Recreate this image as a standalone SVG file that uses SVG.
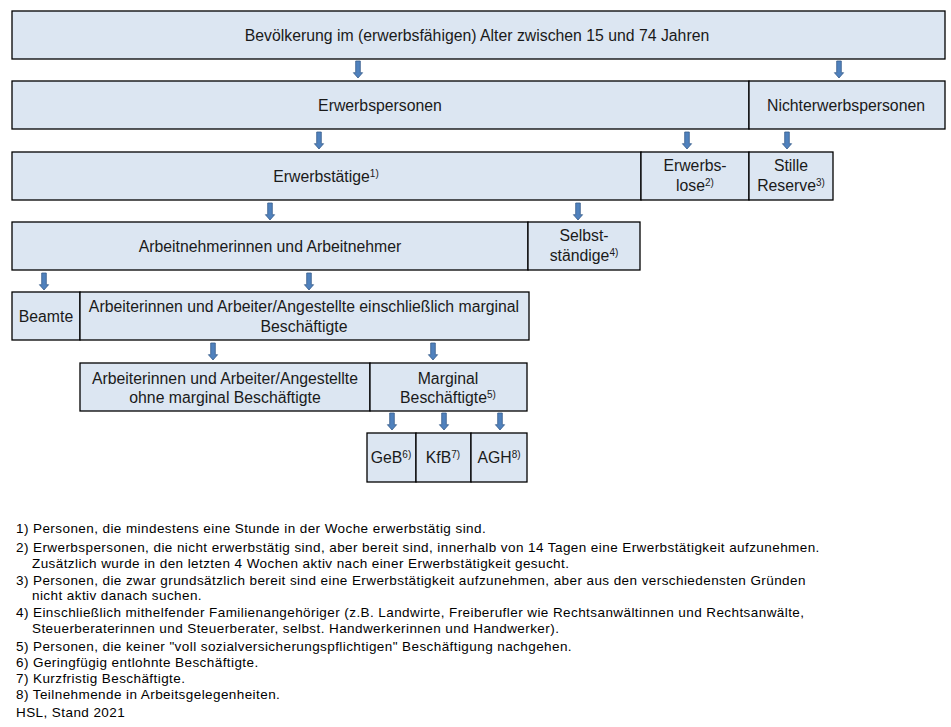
<svg xmlns="http://www.w3.org/2000/svg" width="951" height="727" viewBox="0 0 951 727">
<defs>
<style>
.box{fill:#DCE6F2;stroke:#000;stroke-width:1.3}
.t{font-family:"Liberation Sans",Arial,sans-serif;font-size:15.8px;fill:#1a1a1a;text-anchor:middle}
.sup{font-size:10px}
.fn{font-family:"Liberation Sans",Arial,sans-serif;font-size:13.5px;letter-spacing:0.42px;fill:#000}
.arr{fill:#4F81BD;stroke:#385D8A;stroke-width:0.8}
</style>
<polygon id="ar" points="-2.3,0 2.3,0 2.3,11.7 4.6,11.7 0,17 -4.6,11.7 -2.3,11.7"/>
</defs>
<rect width="951" height="727" fill="#fff"/>
<g id="connectors" class="arr">
<use href="#ar" x="358" y="61"/>
<use href="#ar" x="839" y="61"/>
<use href="#ar" x="319" y="132"/>
<use href="#ar" x="687" y="132"/>
<use href="#ar" x="787" y="132"/>
<use href="#ar" x="270" y="203"/>
<use href="#ar" x="578" y="203"/>
<use href="#ar" x="44" y="273"/>
<use href="#ar" x="309" y="273"/>
<use href="#ar" x="213" y="343"/>
<use href="#ar" x="433" y="343"/>
<use href="#ar" x="392" y="413"/>
<use href="#ar" x="444" y="413"/>
<use href="#ar" x="500" y="413"/>
</g>
<g id="n-bevoelkerung"><rect class="box" x="12" y="11" width="933" height="48"/><text class="t" x="477" y="41">Bevölkerung im (erwerbsfähigen) Alter zwischen 15 und 74 Jahren</text></g>
<g id="n-erwerbspersonen"><rect class="box" x="12" y="81" width="737" height="48"/><text class="t" x="380" y="111">Erwerbspersonen</text></g>
<g id="n-nichterwerbspersonen"><rect class="box" x="749" y="81" width="196" height="48"/><text class="t" x="846" y="111">Nichterwerbspersonen</text></g>
<g id="n-erwerbstaetige"><rect class="box" x="12" y="152" width="629" height="48"/><text class="t" x="326" y="182">Erwerbstätige<tspan class="sup" dy="-5">1)</tspan></text></g>
<g id="n-erwerbslose"><rect class="box" x="641" y="152" width="108" height="48"/><text class="t" x="695" y="171">Erwerbs-</text><text class="t" x="695" y="191">lose<tspan class="sup" dy="-5">2)</tspan></text></g>
<g id="n-stillereserve"><rect class="box" x="749" y="152" width="84" height="48"/><text class="t" x="791" y="171">Stille</text><text class="t" x="791" y="191">Reserve<tspan class="sup" dy="-5">3)</tspan></text></g>
<g id="n-arbeitnehmer"><rect class="box" x="12" y="222" width="516" height="48"/><text class="t" x="270" y="252">Arbeitnehmerinnen und Arbeitnehmer</text></g>
<g id="n-selbststaendige"><rect class="box" x="528" y="222" width="112" height="48"/><text class="t" x="584" y="241">Selbst-</text><text class="t" x="584" y="261">ständige<tspan class="sup" dy="-5">4)</tspan></text></g>
<g id="n-beamte"><rect class="box" x="12" y="292" width="68" height="48"/><text class="t" x="46" y="322">Beamte</text></g>
<g id="n-arbeiter-einschl"><rect class="box" x="80" y="292" width="449" height="48"/><text class="t" x="304" y="312">Arbeiterinnen und Arbeiter/Angestellte einschließlich marginal</text><text class="t" x="304" y="332">Beschäftigte</text></g>
<g id="n-arbeiter-ohne"><rect class="box" x="80" y="363" width="290" height="48"/><text class="t" x="225" y="384">Arbeiterinnen und Arbeiter/Angestellte</text><text class="t" x="225" y="403">ohne marginal Beschäftigte</text></g>
<g id="n-marginal"><rect class="box" x="370" y="363" width="157" height="48"/><text class="t" x="448" y="384">Marginal</text><text class="t" x="448" y="403">Beschäftigte<tspan class="sup" dy="-5">5)</tspan></text></g>
<g id="n-geb"><rect class="box" x="367" y="433" width="49" height="49"/><text class="t" x="391" y="463">GeB<tspan class="sup" dy="-5">6)</tspan></text></g>
<g id="n-kfb"><rect class="box" x="416" y="433" width="55" height="49"/><text class="t" x="443" y="463">KfB<tspan class="sup" dy="-5">7)</tspan></text></g>
<g id="n-agh"><rect class="box" x="471" y="433" width="56" height="49"/><text class="t" x="499" y="463">AGH<tspan class="sup" dy="-5">8)</tspan></text></g>
<g id="footnotes" class="fn">
<text x="16" y="533">1) Personen, die mindestens eine Stunde in der Woche erwerbstätig sind.</text>
<text x="16" y="552">2) Erwerbspersonen, die nicht erwerbstätig sind, aber bereit sind, innerhalb von 14 Tagen eine Erwerbstätigkeit aufzunehmen.</text>
<text x="32" y="568">Zusätzlich wurde in den letzten 4 Wochen aktiv nach einer Erwerbstätigkeit gesucht.</text>
<text x="16" y="585">3) Personen, die zwar grundsätzlich bereit sind eine Erwerbstätigkeit aufzunehmen, aber aus den verschiedensten Gründen</text>
<text x="32" y="600">nicht aktiv danach suchen.</text>
<text x="16" y="617">4) Einschließlich mithelfender Familienangehöriger (z.B. Landwirte, Freiberufler wie Rechtsanwältinnen und Rechtsanwälte,</text>
<text x="32" y="633">Steuerberaterinnen und Steuerberater, selbst. Handwerkerinnen und Handwerker).</text>
<text x="16" y="651">5) Personen, die keiner "voll sozialversicherungspflichtigen" Beschäftigung nachgehen.</text>
<text x="16" y="667">6) Geringfügig entlohnte Beschäftigte.</text>
<text x="16" y="683">7) Kurzfristig Beschäftigte.</text>
<text x="16" y="699">8) Teilnehmende in Arbeitsgelegenheiten.</text>
<text x="16" y="717">HSL, Stand 2021</text>
</g>
</svg>
